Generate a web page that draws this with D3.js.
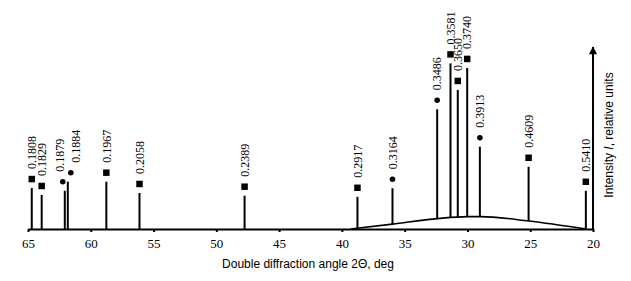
<!DOCTYPE html>
<html>
<head>
<meta charset="utf-8">
<script src="https://cdn.jsdelivr.net/npm/d3@7"></script>
<style>
  body { margin: 0; background: #fff; }
</style>
</head>
<body>
<div id="chart"></div>
<script>
// peaks: d-spacing label, angle 2theta (deg), relative intensity, phase marker
let peakLabels = ["0.1808","0.1829","0.1879","0.1884","0.1967","0.2058","0.2389","0.2917","0.3164","0.3486","0.3581","0.3650","0.3740","0.3913","0.4609","0.5410"];
let peakAngles = [64.70, 63.91, 62.07, 61.83, 58.76, 56.12, 47.75, 38.76, 35.97, 32.41, 31.35, 30.77, 30.02, 29.01, 25.13, 20.57];
let peakIntensity = [22.5, 18.7, 21, 26, 26, 19.8, 18.3, 17.7, 22.4, 65.8, 91, 76.4, 88.5, 45.2, 34.2, 21];
let peakPhase = ["s","s","c","c","s","s","s","s","c","c","s","s","s","c","s","s"];

// amorphous hump under the peaks
let humpAngles = [39.32, 35.97, 32.38, 29.99, 28.96, 25.13, 20.57];
let humpIntensity = [0, 2.7, 5.7, 6.8, 6.8, 4.4, 0];

let xTicks = [65, 60, 55, 50, 45, 40, 35, 30, 25, 20];

let width = 631, height = 281;
let margin = ({top: 47, right: 38, bottom: 52, left: 28});

let peaks = peakLabels.map((l, i) => ({label: l, angle: peakAngles[i], I: peakIntensity[i], phase: peakPhase[i]}));
let hump = humpAngles.map((a, i) => ({angle: a, I: humpIntensity[i]}));

let x = d3.scaleLinear()
    .domain([65, 20])
    .range([margin.left, width - margin.right]);
let y = d3.scaleLinear()
    .domain([0, 100])
    .range([height - margin.bottom, margin.top]);

// hump value at an angle (linear between the read points)
let humpAt = a => {
    for (let i = 0; i < hump.length - 1; i++) {
        let p = hump[i], q = hump[i + 1];
        if (a <= p.angle && a >= q.angle) return p.I + (q.I - p.I) * (p.angle - a) / (p.angle - q.angle);
    }
    return 0;
};

let svg = d3.select("#chart")
    .append("svg")
    .attr("width", width)
    .attr("height", height)
    .attr("viewBox", [0, 0, width, height]);

svg.append("defs").append("marker")
    .attr("id", "arrow")
    .attr("viewBox", "0 0 10 10")
    .attr("refX", 9).attr("refY", 5)
    .attr("markerWidth", 5).attr("markerHeight", 4)
    .attr("markerUnits", "strokeWidth")
    .attr("orient", "auto")
    .append("path")
    .attr("d", "M0,0L10,5L0,10Z")
    .attr("fill", "#000");

// hump
svg.append("path")
    .datum(hump)
    .attr("fill", "none")
    .attr("stroke", "#000")
    .attr("stroke-width", 1.6)
    .attr("d", d3.line().x(d => x(d.angle)).y(d => y(d.I)).curve(d3.curveMonotoneX));

// x axis
let xAxis = g => g
    .attr("transform", `translate(0,${y(0)})`)
    .call(d3.axisBottom(x).tickValues(xTicks).tickSize(3).tickPadding(7).tickSizeOuter(0))
    .call(g => g.select(".domain").attr("stroke-width", 2))
    .call(g => g.selectAll(".tick line").attr("stroke-width", 2))
    .call(g => g.selectAll(".tick text")
        .attr("font-family", "'Liberation Serif', 'Times New Roman', serif")
        .attr("font-size", 13)
        .attr("fill", "#000"));
svg.append("g").call(xAxis);

svg.append("text")
    .attr("x", 308)
    .attr("y", 268)
    .attr("text-anchor", "middle")
    .attr("font-family", "'Liberation Sans', Arial, sans-serif")
    .attr("font-size", 12)
    .text("Double diffraction angle 2\u0398, deg");

// y arrow
svg.append("line")
    .attr("x1", x(20)).attr("x2", x(20))
    .attr("y1", y(0) + 1).attr("y2", y(100))
    .attr("stroke", "#000")
    .attr("stroke-width", 2)
    .attr("marker-end", "url(#arrow)");

svg.append("text")
    .attr("transform", `translate(${x(20) + 20},${(y(0) + y(100)) / 2 - 3}) rotate(-90)`)
    .attr("text-anchor", "middle")
    .attr("font-family", "'Liberation Sans', Arial, sans-serif")
    .attr("font-size", 12)
    .call(t => t.append("tspan").text("Intensity "))
    .call(t => t.append("tspan").attr("font-style", "italic").text("I"))
    .call(t => t.append("tspan").text(", relative units"));

// nudge markers of very close neighbours apart
let shift = peaks.map((d, i) => {
    let prev = peaks[i - 1], next = peaks[i + 1];
    if (next && d.phase === next.phase && d.phase === "c" && Math.abs(d.angle - next.angle) < 0.5) return -2;
    if (prev && d.phase === prev.phase && d.phase === "c" && Math.abs(d.angle - prev.angle) < 0.5) return 3;
    return 0;
});

let gp = svg.append("g");

gp.selectAll("line")
    .data(peaks)
    .join("line")
    .attr("x1", d => x(d.angle)).attr("x2", d => x(d.angle))
    .attr("y1", d => y(humpAt(d.angle)))
    .attr("y2", d => y(d.I))
    .attr("stroke", "#000")
    .attr("stroke-width", 2);

gp.selectAll("path")
    .data(peaks)
    .join("path")
    .attr("transform", (d, i) => `translate(${x(d.angle) + shift[i]},${y(d.I) - 9})`)
    .attr("d", d => d.phase === "s"
        ? d3.symbol().type(d3.symbolSquare).size(42)()
        : d3.symbol().type(d3.symbolCircle).size(24)())
    .attr("fill", "#000");

gp.selectAll("text")
    .data(peaks)
    .join("text")
    .attr("transform", (d, i) => `translate(${x(d.angle) + shift[i] * 2.5},${y(d.I) - 19}) rotate(-90)`)
    .attr("dy", "0.35em")
    .attr("font-family", "'Liberation Serif', 'Times New Roman', serif")
    .attr("font-size", 12)
    .text(d => d.label);
</script>
</body>
</html>
